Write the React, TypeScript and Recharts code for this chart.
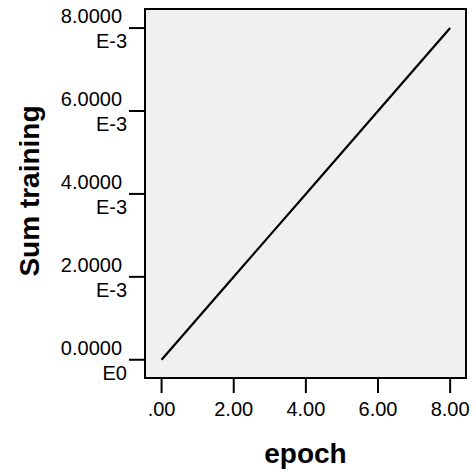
import { LineChart, Line, XAxis, YAxis, ReferenceArea } from "recharts"

const epochs = [0, 1, 2, 3, 4, 5, 6, 7, 8]
const sumTraining = [0, 0.001, 0.002, 0.003, 0.004, 0.005, 0.006, 0.007, 0.008]

const xTicks = [0, 2, 4, 6, 8]
const xTickLabels = [".00", "2.00", "4.00", "6.00", "8.00"]
const yTicks = [0, 0.002, 0.004, 0.006, 0.008]
const yTickMain = ["0.0000", "2.0000", "4.0000", "6.0000", "8.0000"]
const yTickExp = ["E0", "E-3", "E-3", "E-3", "E-3"]

const xDomain = [-0.46, 8.44]
const yDomain = [-0.00044, 0.00846]

const data = epochs.map((e, i) => ({ epoch: e, sum: sumTraining[i] }))

const font = "Arial, 'Liberation Sans', sans-serif"

function YTick({ x, y, payload }: any) {
  const i = yTicks.indexOf(payload.value)
  return (
    <text textAnchor="end" fontFamily={font} fontSize={20} fill="#000">
      <tspan x={x - 3} y={y - 5}>{yTickMain[i]}</tspan>
      <tspan x={x + 2} y={y + 20}>{yTickExp[i]}</tspan>
    </text>
  )
}

function XTick({ x, y, payload }: any) {
  const i = xTicks.indexOf(payload.value)
  return (
    <text x={x} y={y + 21} textAnchor="middle" fontFamily={font} fontSize={20} fill="#000">
      {xTickLabels[i]}
    </text>
  )
}

export default function App() {
  return (
    <div style={{ position: "absolute", left: 0, top: 0 }}>
      <LineChart width={476} height={472} data={data} margin={{ top: 9, right: 10, left: 0, bottom: 0 }}>
        <ReferenceArea
          x1={xDomain[0]}
          x2={xDomain[1]}
          y1={yDomain[0]}
          y2={yDomain[1]}
          fill="#F0F0F0"
          fillOpacity={1}
          stroke="#000"
          strokeWidth={2}
        />
        <XAxis
          dataKey="epoch"
          type="number"
          domain={xDomain}
          ticks={xTicks}
          height={94}
          tickSize={15}
          tickMargin={2}
          axisLine={{ stroke: "#000", strokeWidth: 2 }}
          tickLine={{ stroke: "#000", strokeWidth: 2 }}
          tick={<XTick />}
          allowDataOverflow
          label={{
            content: ({ viewBox }: any) => (
              <text
                x={viewBox.x + viewBox.width / 2}
                y={463}
                textAnchor="middle"
                fontFamily={font}
                fontSize={28}
                fontWeight="bold"
                fill="#000"
              >
                epoch
              </text>
            ),
          }}
        />
        <YAxis
          dataKey="sum"
          type="number"
          domain={yDomain}
          ticks={yTicks}
          width={145}
          tickSize={16}
          tickMargin={4}
          axisLine={{ stroke: "#000", strokeWidth: 2 }}
          tickLine={{ stroke: "#000", strokeWidth: 2 }}
          tick={<YTick />}
          allowDataOverflow
          label={{
            content: () => (
              <text
                x={39}
                y={191}
                transform="rotate(-90 39 191)"
                textAnchor="middle"
                fontFamily={font}
                fontSize={28}
                fontWeight="bold"
                fill="#000"
              >
                Sum training
              </text>
            ),
          }}
        />
        <Line
          dataKey="sum"
          stroke="#000"
          strokeWidth={2.2}
          dot={false}
          isAnimationActive={false}
        />
      </LineChart>
    </div>
  )
}
